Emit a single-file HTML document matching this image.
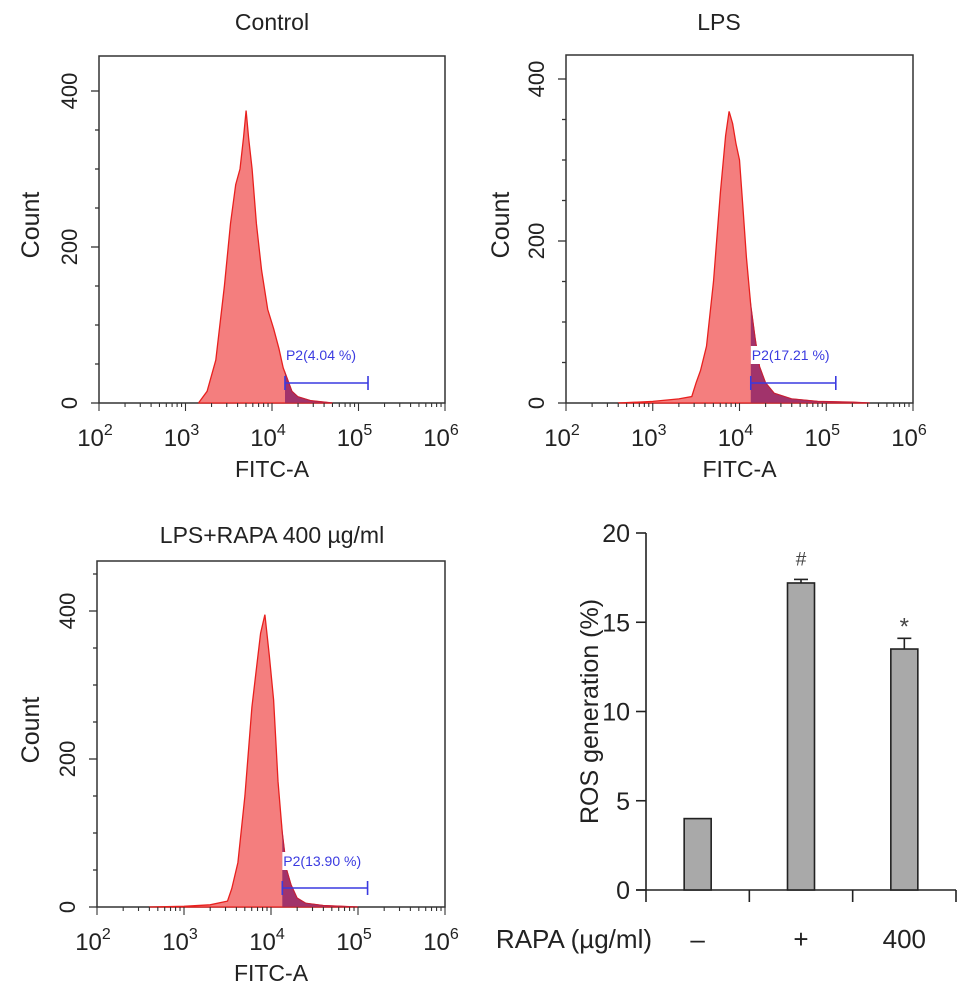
<!DOCTYPE html>
<html><head><meta charset="utf-8">
<style>
html,body{margin:0;padding:0;background:#fff;}
svg{display:block;font-family:"Liberation Sans",Arial,sans-serif;}
</style></head>
<body>
<svg id="fig" width="969" height="999" viewBox="0 0 969 999" xmlns="http://www.w3.org/2000/svg"></svg>
<script>
// ---- histogram data (log10 FITC, count) ----
const ctrlLog = [3.15,3.25,3.35,3.45,3.52,3.58,3.63,3.67,3.7,3.73,3.77,3.82,3.88,3.95,4.02,4.08,4.13,4.18,4.23,4.3,4.45,4.7];
const ctrlCnt = [0,15,55,150,230,280,300,340,375,340,300,230,170,120,95,70,45,30,15,8,3,0];
const lpsLog = [2.6,3.0,3.3,3.45,3.5,3.55,3.62,3.7,3.78,3.84,3.88,3.92,3.96,4.0,4.04,4.08,4.13,4.18,4.23,4.3,4.4,4.6,4.9,5.3,5.5];
const lpsCnt = [0,2,5,8,25,40,70,150,260,330,360,345,320,300,240,180,120,80,45,25,12,5,2,1,0];
const rapLog = [2.6,3.0,3.3,3.5,3.55,3.62,3.7,3.78,3.84,3.88,3.93,3.98,4.03,4.08,4.13,4.18,4.23,4.3,4.4,4.6,5.0];
const rapCnt = [0,1,3,8,25,60,150,270,330,370,395,340,280,170,100,50,30,12,5,2,0];
const gateStarts = [4.15,4.13,4.13];
const gateEnds = [5.11,5.11,5.11];
const gateLabels = ["P2(4.04 %)","P2(17.21 %)","P2(13.90 %)"];
const panelTitles = ["Control","LPS","LPS+RAPA 400 \u00b5g/ml"];
const yTicks = [0,200,400];
const xDecades = [2,3,4,5,6];
// ---- bar chart data ----
const barCats = ["\u2013","+","400"];
const barVals = [4.0,17.2,13.5];
const barErr = [0,0.2,0.6];
const barMarks = ["","#","*"];
const barYTicks = [0,5,10,15,20];

const NS="http://www.w3.org/2000/svg";
const svg=document.getElementById('fig');
function el(tag,attrs,parent,text){const e=document.createElementNS(NS,tag);for(const k in attrs)e.setAttribute(k,attrs[k]);if(text!==undefined)e.textContent=text;(parent||svg).appendChild(e);return e;}

const panels=[
 {x0:99,x1:445,top:56,y0:403,py:0.78,log:ctrlLog,cnt:ctrlCnt,tx:272,ty:30,cx:30,cy:225,gy:383,ly:360,name:'control'},
 {x0:566,x1:913,top:55,y0:403,py:0.81,log:lpsLog,cnt:lpsCnt,tx:719,ty:30,cx:500,cy:225,gy:383,ly:360,name:'lps'},
 {x0:97,x1:445,top:561,y0:907,py:0.74,log:rapLog,cnt:rapCnt,tx:272,ty:543,cx:30,cy:730,gy:888,ly:866,name:'lps-rapa'}
];
panels.forEach((p,i)=>{
 const g=el('g',{});  
 const X=v=>p.x0+(v-2)/4*(p.x1-p.x0);
 const Y=c=>p.y0-c*p.py;
 const t=el('text',{x:p.tx,y:p.ty,'font-size':23,'text-anchor':'middle',fill:'#222'},g,panelTitles[i]);
  
 const fr=el('rect',{x:p.x0,y:p.top,width:p.x1-p.x0,height:p.y0-p.top,fill:'none',stroke:'#333','stroke-width':1.5},g);
  
 let d='M'+X(p.log[0])+','+Y(0);
 p.log.forEach((l,k)=>{d+=' L'+X(l).toFixed(1)+','+Y(p.cnt[k]).toFixed(1);});
 d+=' L'+X(p.log[p.log.length-1])+','+Y(0)+' Z';
 const cid='clip'+i;
 const cp=el('clipPath',{id:cid},g); el('rect',{x:X(gateStarts[i]),y:p.top,width:p.x1-X(gateStarts[i]),height:p.y0-p.top},cp);
 const h=el('path',{d:d,fill:'#f47e7e',stroke:'#e8201e','stroke-width':1.3},g);
  
 const hg=el('path',{d:d,fill:'#a1336b','clip-path':'url(#'+cid+')',stroke:'#c0203a','stroke-width':1},g);
  
 for(let c=0;c<=450;c+=50){const y=Y(c);if(y<p.top)break;el('line',{x1:p.x0-(c%200===0?8:4),x2:p.x0,y1:y,y2:y,stroke:'#333','stroke-width':1.3},g);}
 yTicks.forEach(c=>{const tl=el('text',{x:0,y:0,'font-size':22,'text-anchor':'middle',fill:'#222',transform:'translate('+(p.x0-22)+','+Y(c)+') rotate(-90)'},g,String(c));
   });
 const cl=el('text',{x:0,y:0,'font-size':25,'text-anchor':'middle',fill:'#222',transform:'translate('+(p.cx+9)+','+p.cy+') rotate(-90)'},g,'Count');
  
 for(let dcd=2;dcd<6;dcd++){for(let m=1;m<10;m++){const x=X(dcd+Math.log10(m));el('line',{x1:x,x2:x,y1:p.y0,y2:p.y0+(m===1?8:4),stroke:'#333','stroke-width':1.1},g);}}
 el('line',{x1:p.x1,x2:p.x1,y1:p.y0,y2:p.y0+8,stroke:'#333','stroke-width':1.1},g);
 xDecades.forEach(dc=>{const tx=el('text',{x:X(dc)-4,y:p.y0+43,'font-size':24,'text-anchor':'middle',fill:'#222'},g);
   
  el('tspan',{},tx,'10'); el('tspan',{'font-size':16,dy:-11},tx,String(dc));});
 const xl=el('text',{x:(p.x0+p.x1)/2,y:p.y0+74,'font-size':23,'text-anchor':'middle',fill:'#222'},g,'FITC-A');
  
 const gs=X(gateStarts[i]),ge=X(gateEnds[i]);
 const gl=el('g',{});  
 g.appendChild(gl);
 el('line',{x1:gs,x2:ge,y1:p.gy,y2:p.gy,stroke:'#3a3ae0','stroke-width':1.6},gl);
 el('line',{x1:gs,x2:gs,y1:p.gy-7,y2:p.gy+7,stroke:'#3a3ae0','stroke-width':1.6},gl);
 el('line',{x1:ge,x2:ge,y1:p.gy-7,y2:p.gy+7,stroke:'#3a3ae0','stroke-width':1.6},gl);
 el('rect',{x:gs,y:p.ly-14,width:i===0?88:102,height:18,fill:'#fff'},gl);
 el('text',{x:gs+1,y:p.ly,'font-size':14,fill:'#3a3ae0'},gl,gateLabels[i]);
});

// ---- bar chart ----
const bc=el('g',{});  
const bx0=646,bx1=956,by0=890,byTop=533;
const BY=v=>by0-v/20*(by0-byTop);
const catW=(bx1-bx0)/barCats.length;
el('line',{x1:bx0,x2:bx0,y1:BY(20),y2:by0,stroke:'#222','stroke-width':1.6},bc);
el('line',{x1:bx0-10,x2:bx1,y1:by0,y2:by0,stroke:'#222','stroke-width':1.6},bc);
barYTicks.forEach(v=>{el('line',{x1:bx0-10,x2:bx0,y1:BY(v),y2:BY(v),stroke:'#222','stroke-width':1.6},bc);
 const t=el('text',{x:bx0-16,y:BY(v)+9,'font-size':25,'text-anchor':'end',fill:'#222'},bc,String(v));
  });
for(let k=0;k<=barCats.length;k++){const x=bx0+k*catW;el('line',{x1:x,x2:x,y1:by0,y2:by0+12,stroke:'#222','stroke-width':1.6},bc);}
const yt=el('text',{x:0,y:0,'font-size':25,'text-anchor':'middle',fill:'#222',transform:'translate(598,'+((by0+byTop)/2)+') rotate(-90)'},bc,'ROS generation (%)');
 
const rl=el('text',{x:652,y:948,'font-size':26,'text-anchor':'end',fill:'#222'},bc,'RAPA (\u00b5g/ml)');
 
barCats.forEach((c,k)=>{
 const cx=bx0+(k+0.5)*catW, w=27;
 const r=el('rect',{x:cx-w/2,y:BY(barVals[k]),width:w,height:by0-BY(barVals[k]),fill:'#a9a9a9',stroke:'#222','stroke-width':1.6},bc);
  
 if(barErr[k]>0){const ye=BY(barVals[k]+barErr[k]);
  el('line',{x1:cx,x2:cx,y1:BY(barVals[k]),y2:ye,stroke:'#222','stroke-width':1.6},bc);
  el('line',{x1:cx-7,x2:cx+7,y1:ye,y2:ye,stroke:'#222','stroke-width':1.6},bc);}
 if(barMarks[k]){const m=el('text',{x:cx,y:BY(barVals[k]+barErr[k])-(barMarks[k]==='*'?4:14),'font-size':barMarks[k]==='*'?24:19,'text-anchor':'middle',fill:'#444'},bc,barMarks[k]);
   }
 const cl=el('text',{x:cx,y:948,'font-size':26,'text-anchor':'middle',fill:'#222'},bc,c);
  
});
</script>
</body></html>
